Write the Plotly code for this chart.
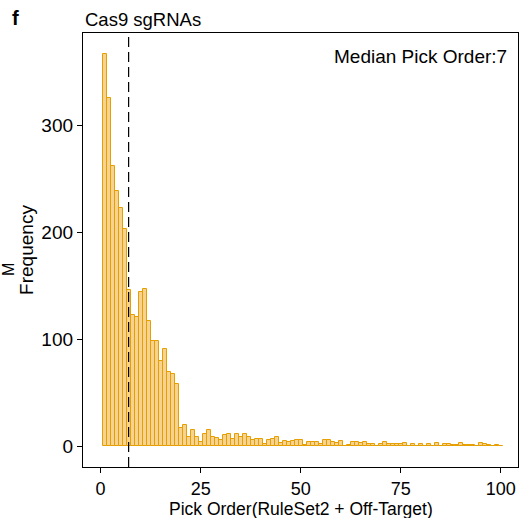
import plotly.graph_objects as go

pick_order = list(range(1, 101))
frequency = [
    367, 326, 262, 239, 223, 203, 146, 123, 121, 144,
    147, 117, 99, 99, 80, 91, 70, 68, 58, 17,
    20, 9, 15, 9, 4, 12, 15, 9, 8, 6,
    11, 12, 7, 12, 9, 12, 9, 6, 7, 7,
    2, 6, 7, 9, 3, 5, 4, 5, 6, 6,
    1, 4, 4, 4, 2, 6, 6, 4, 3, 5,
    0, 1, 4, 4, 3, 4, 2, 2, 0, 2,
    4, 2, 2, 2, 2, 3, 0, 2, 0, 2,
    0, 2, 0, 3, 0, 2, 2, 1, 1, 3,
    1, 1, 1, 0, 3, 2, 1, 0, 1, 0,
]
median_pick = 7
x_ticks = [0, 25, 50, 75, 100]
y_ticks = [0, 100, 200, 300]

FONT = "Liberation Sans, Arial, Helvetica, sans-serif"

fig = go.Figure()
fig.add_trace(go.Bar(
    x=pick_order, y=frequency, width=1,
    marker=dict(color="rgba(238,170,45,0.52)",
                line=dict(color="#E69F00", width=1)),
    showlegend=False,
))

fig.add_shape(type="line", x0=median_pick, x1=median_pick, xref="x",
              y0=0, y1=1, yref="paper",
              line=dict(color="black", width=1.2, dash="10px,5px"))

fig.update_layout(
    width=521, height=518,
    margin=dict(l=83, r=3, t=33, b=51),
    plot_bgcolor="white", paper_bgcolor="white",
    bargap=0,
    font=dict(family=FONT, size=19, color="black"),
    xaxis=dict(range=[-4.4, 104.3], tickvals=x_ticks, ticks="outside",
               ticklen=5, tickcolor="black", tickwidth=1.2,
               showgrid=False, zeroline=False, showline=True,
               linecolor="black", linewidth=1.3, mirror=True,
               tickfont=dict(size=18)),
    yaxis=dict(range=[-19.2, 386.4], tickvals=y_ticks, ticks="outside",
               ticklen=5, tickcolor="black", tickwidth=1.2,
               showgrid=False, zeroline=False, showline=True,
               linecolor="black", linewidth=1.3, mirror=True,
               tickfont=dict(size=19),
               title=dict(text="Frequency", font=dict(size=19), standoff=2)),
    annotations=[
        dict(text="Pick Order(RuleSet2 + Off-Target)", x=0.5, y=0,
             xref="paper", yref="paper", xanchor="center", yanchor="top",
             yshift=-29.5, showarrow=False, font=dict(size=17.5)),
        dict(text="Cas9 sgRNAs", x=0, y=1, xref="paper", yref="paper",
             xanchor="left", yanchor="bottom", yshift=1, showarrow=False,
             font=dict(size=18.5)),
        dict(text="Median Pick Order:7", x=1, y=1, xref="paper", yref="paper",
             xanchor="right", yanchor="top", xshift=-9, yshift=-11,
             showarrow=False, font=dict(size=19)),
        dict(text="<b>f</b>", x=-83/435, y=1, xref="paper", yref="paper",
             xanchor="left", yanchor="bottom", xshift=10, yshift=2,
             showarrow=False, font=dict(size=20)),
        dict(text="M", x=-83/435, y=0.455, xref="paper", yref="paper",
             xanchor="left", yanchor="middle", xshift=-2, textangle=-90,
             showarrow=False, font=dict(size=16)),
    ],
)

fig.write_html("out.html")
